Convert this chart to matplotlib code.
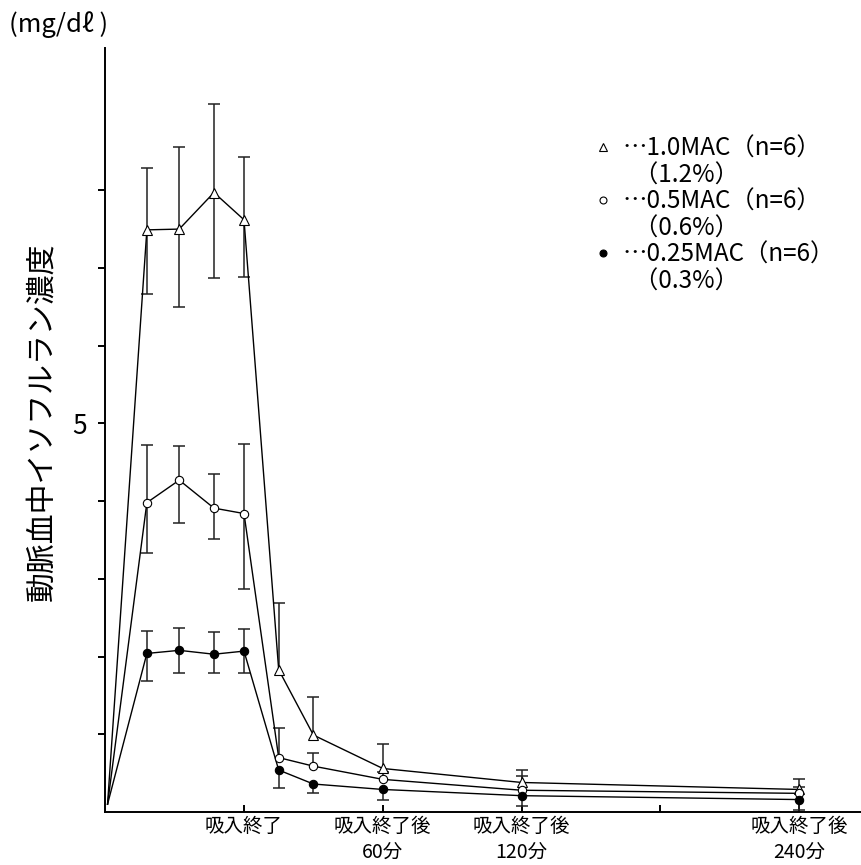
import numpy as np
import matplotlib
matplotlib.use('Agg')
import matplotlib.pyplot as plt
from matplotlib.lines import Line2D

plt.rcParams['font.family'] = ['Noto Sans CJK JP', 'DejaVu Sans']

# minutes relative to end of inhalation
times = [-59, -42, -28, -13, 0, 15, 30, 60, 120, 240]

# 1.0MAC (triangle)
mac10 = [0.1, 7.49, 7.50, 7.97, 7.62, 1.83, 0.99, 0.56, 0.38, 0.29]
mac10_lo = [0, 0.83, 1.00, 1.10, 0.74, 0, 0, 0, 0, 0]
mac10_hi = [0, 0.80, 1.05, 1.14, 0.81, 0.86, 0.49, 0.32, 0.16, 0.13]

# 0.5MAC (open circle)
mac05 = [0.1, 3.98, 4.27, 3.91, 3.84, 0.70, 0.59, 0.42, 0.28, 0.24]
mac05_lo = [0, 0.65, 0.55, 0.40, 0.97, 0, 0, 0, 0, 0]
mac05_hi = [0, 0.74, 0.44, 0.44, 0.90, 0.38, 0.17, 0.10, 0.18, 0.08]

# 0.25MAC (filled circle)
mac025 = [0.1, 2.04, 2.08, 2.03, 2.07, 0.54, 0.36, 0.29, 0.21, 0.16]
mac025_lo = [0, 0.35, 0.29, 0.24, 0.28, 0.23, 0.12, 0.13, 0.13, 0.13]
mac025_hi = [0, 0.29, 0.29, 0.28, 0.28, 0, 0, 0, 0, 0]

xticks = [0, 60, 120, 180, 240]
xticklabels = ['吸入終了', '吸入終了後\n60分', '吸入終了後\n120分', '', '吸入終了後\n240分']
yticks = [1, 2, 3, 4, 5, 6, 7, 8]
yticklabels = ['', '', '', '', '5', '', '', '']

legend_labels = ['⋯1.0MAC（n=6）', '  （1.2%）',
                 '⋯0.5MAC（n=6）', '  （0.6%）',
                 '⋯0.25MAC（n=6）', '  （0.3%）']


def draw_bars(ax, x, y, lo, hi):
    x = np.asarray(x)[1:]
    y = np.asarray(y)[1:]
    lo = np.asarray(lo)[1:]
    hi = np.asarray(hi)[1:]
    ax.vlines(x, y - lo, y + hi, color='#222222', lw=1.1, zorder=2)
    m = hi > 0
    ax.plot(x[m], (y + hi)[m], ls='none', marker='_', ms=8, mew=1.1,
            color='#222222', zorder=2)
    m = lo > 0
    ax.plot(x[m], (y - lo)[m], ls='none', marker='_', ms=8, mew=1.1,
            color='#222222', zorder=2)


fig = plt.figure(figsize=(8.62, 8.65), dpi=100)
ax = fig.add_axes([105 / 862, 53 / 865, 757 / 862, 764 / 865])

series = [
    (mac10, mac10_lo, mac10_hi, '^', 'white', 7.5),
    (mac05, mac05_lo, mac05_hi, 'o', 'white', 6),
    (mac025, mac025_lo, mac025_hi, 'o', 'black', 6),
]
for vals, lo, hi, mk, fc, ms in series:
    draw_bars(ax, times, vals, lo, hi)
    ax.plot(times, vals, color='black', lw=1.0, zorder=2.5)
    ax.plot(times[1:], vals[1:], ls='none', marker=mk, ms=ms, mfc=fc,
            mec='black', mew=0.8, zorder=3)

ax.set_xlim(-60.1, 267.2)
ax.set_ylim(0, 9.83)

for s in ['top', 'right']:
    ax.spines[s].set_visible(False)
for s in ['left', 'bottom']:
    ax.spines[s].set_linewidth(1.4)

ax.set_xticks(xticks)
ax.set_xticklabels(xticklabels, fontsize=14, linespacing=1.3)
ax.tick_params(axis='x', direction='in', length=5, width=1.4, pad=3)
ax.set_yticks(yticks)
ax.set_yticklabels(yticklabels, fontsize=19)
ax.tick_params(axis='y', direction='out', length=5, width=1.4, pad=8)

fig.text(42 / 862, 1 - 422 / 865, '動脈血中イソフルラン濃度', rotation=90,
         ha='center', va='center', fontsize=21.5)
fig.text(9 / 862, 1 - 25 / 865, '(mg/dℓ )', ha='left', va='center',
         fontsize=18.5)

blank = Line2D([], [], ls='none', marker=None)
handles = [
    Line2D([], [], ls='none', marker='^', ms=5.5, mfc='white', mec='black', mew=0.8),
    blank,
    Line2D([], [], ls='none', marker='o', ms=5, mfc='white', mec='black', mew=0.8),
    blank,
    Line2D([], [], ls='none', marker='o', ms=5, mfc='black', mec='black', mew=0.8),
    blank,
]
ax.legend(handles, legend_labels, loc='upper left',
          bbox_to_anchor=(591 / 862, 1 - 136 / 865),
          bbox_transform=fig.transFigure, frameon=False, fontsize=17.5,
          handlelength=0.95, handletextpad=0.35, labelspacing=0.02,
          borderpad=0, borderaxespad=0)

fig.savefig('out.png', dpi=100)
